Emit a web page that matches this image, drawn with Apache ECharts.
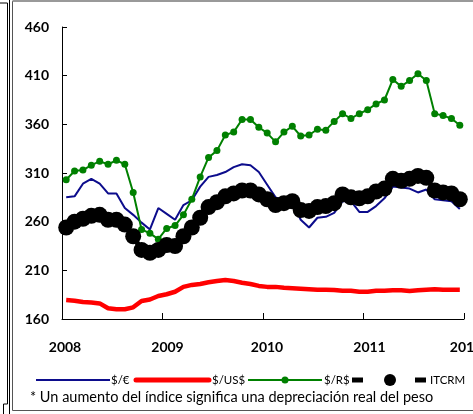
<!DOCTYPE html>
<html>
<head>
<meta charset="utf-8">
<script src="https://cdn.jsdelivr.net/npm/echarts@6/dist/echarts.min.js"></script>
<style>
  html, body { margin: 0; padding: 0; background: #fff; }
  #chart { width: 473px; height: 414px; }
</style>
</head>
<body>
<div id="chart"></div>
<script>
// nombres de las series (orden de la leyenda)
const seriesNames = ['$/€', '$/US$', '$/R$', 'ITCRM']
const years = [2008, 2009, 2010, 2011]
const yearLabels = [2008, 2009, 2010, 2011, 2012]
const yTicks = [160, 210, 260, 310, 360, 410, 460]
const note = '* Un aumento del índice significa una depreciación real del peso'

// valores mensuales ene-2008 .. dic-2011
const euro = [285, 286, 299, 304, 299, 289, 289, 274, 267, 259, 252, 274,
  268, 262, 277, 282, 296, 306, 308, 311, 316, 319, 318, 311,
  298, 285, 282, 281, 262, 254, 264, 265, 269, 281, 281, 270,
  270, 276, 284, 296, 295, 294, 290, 293, 283, 282, 281, 273]
const usd = [179.5, 178.8, 177.5, 177, 176, 171, 170, 170, 172, 178.5, 180, 183.6,
  185.4, 188, 193, 195, 196, 197.7, 199, 200, 199, 197.3, 196, 194,
  193, 193, 192, 191.5, 191, 190.5, 190, 190, 189.8, 189, 189, 188,
  188, 189, 189, 189.5, 189.5, 188.8, 189.5, 190, 190.5, 190, 190, 190]
const real = [303, 312, 313, 318, 322, 319, 323, 319, 290, 252, 248, 242,
  253, 256, 267, 283, 306, 326, 333, 349, 352, 365, 365, 357,
  351, 342, 352, 358, 348, 349, 355, 354, 363, 371, 366, 371,
  375, 381, 385, 406, 399, 405, 412, 405, 371, 369, 366, 359]
const itcrm = [254, 260, 263, 266, 267, 262, 262, 257, 245, 231, 228, 231,
  236, 235, 245, 254, 264, 275, 280, 286, 289, 292, 292, 288,
  283, 277, 279, 281, 272, 271, 275, 276, 279, 288, 285, 284,
  286, 291, 294, 304, 302, 304, 307, 305, 292, 290, 289, 283]

// posición de cada mes en el eje (mitad del mes)
const months = []
years.forEach(y => { for (let m = 0; m < 12; m++) months.push(y + (m + 0.5) / 12) })
const pairs = arr => arr.map((v, i) => [months[i], v])

const colors = ['#0c0c8c', '#ff0000', '#008000', '#000000']
const font = 'Lato, "Open Sans", sans-serif'

// las etiquetas de año del original quedan algo a la derecha de la marca
const labelPad = [6, 10, 8, 12, 4]
const yearRich = {}
yearLabels.forEach((y, i) => {
  yearRich['y' + y] = { fontFamily: font, fontWeight: 'bold', fontSize: 14, color: '#000', padding: [0, 0, 0, labelPad[i]] }
})

const chart = echarts.init(document.getElementById('chart'))

// leyenda dibujada a mano para imitar la de Excel
const ly = 380
const lfont = '11.5px ' + font
const legend = [
  { type: 'line', shape: { x1: 36, y1: ly, x2: 110, y2: ly }, style: { stroke: colors[0], lineWidth: 2 } },
  { type: 'text', x: 111, y: ly, style: { text: seriesNames[0], font: lfont, fill: '#000', verticalAlign: 'middle' } },
  { type: 'line', shape: { x1: 136, y1: ly, x2: 209, y2: ly }, style: { stroke: colors[1], lineWidth: 5, lineCap: 'round' } },
  { type: 'text', x: 212, y: ly, style: { text: seriesNames[1], font: lfont, fill: '#000', verticalAlign: 'middle' } },
  { type: 'line', shape: { x1: 248, y1: ly, x2: 322, y2: ly }, style: { stroke: colors[2], lineWidth: 2 } },
  { type: 'circle', shape: { cx: 285, cy: ly, r: 3.5 }, style: { fill: colors[2] } },
  { type: 'text', x: 324, y: ly, style: { text: seriesNames[2], font: lfont, fill: '#000', verticalAlign: 'middle' } },
  { type: 'rect', shape: { x: 352, y: ly - 2.5, width: 11, height: 5 }, style: { fill: '#000' } },
  { type: 'circle', shape: { cx: 390, cy: ly, r: 6 }, style: { fill: '#000' } },
  { type: 'rect', shape: { x: 415, y: ly - 2.5, width: 11, height: 5 }, style: { fill: '#000' } },
  { type: 'text', x: 430, y: ly, style: { text: seriesNames[3], font: lfont, fill: '#000', verticalAlign: 'middle' } }
]

// marco alrededor del gráfico
const frame = [
  { type: 'polyline', shape: { points: [[0, 3], [7.5, 3], [7.5, 404], [3.5, 404], [3.5, 414]] }, style: { stroke: '#000', lineWidth: 1, fill: null } },
  { type: 'line', shape: { x1: 9.5, y1: 0, x2: 9.5, y2: 414 }, style: { stroke: '#000', lineWidth: 1 } },
  { type: 'line', shape: { x1: 12.5, y1: 1, x2: 12.5, y2: 410.5 }, style: { stroke: '#555', lineWidth: 1 } },
  { type: 'line', shape: { x1: 12.5, y1: 410.5, x2: 473, y2: 410.5 }, style: { stroke: '#555', lineWidth: 1 } },
  { type: 'line', shape: { x1: 12.5, y1: 1, x2: 473, y2: 1 }, style: { stroke: '#999', lineWidth: 2 } }
]

const option = {
  animation: false,
  // sin ajuste automático: la etiqueta 2012 queda cortada como en el original
  grid: { left: 62, top: 27, right: 9, bottom: 95, containLabel: false, outerBoundsMode: 'none' },
  xAxis: {
    type: 'value', min: 2008, max: 2012, interval: 1,
    axisLine: { lineStyle: { color: '#000', width: 1 } },
    axisTick: { inside: true, length: 6, lineStyle: { color: '#000' } },
    axisLabel: {
      color: '#000', fontFamily: font, fontWeight: 'bold', fontSize: 14, margin: 21,
      formatter: v => '{y' + v + '|' + v + '}', rich: yearRich
    },
    splitLine: { show: false }
  },
  yAxis: {
    type: 'value', min: yTicks[0], max: yTicks[yTicks.length - 1], interval: 50,
    axisLine: { show: true, lineStyle: { color: '#000', width: 1 } },
    axisTick: { show: true, inside: true, length: 5, lineStyle: { color: '#000' } },
    axisLabel: { color: '#000', fontFamily: font, fontWeight: 'bold', fontSize: 14, margin: 13 },
    splitLine: { show: false }
  },
  series: [
    { name: seriesNames[0], type: 'line', data: pairs(euro), symbol: 'none', lineStyle: { color: colors[0], width: 2 }, z: 2 },
    { name: seriesNames[1], type: 'line', data: pairs(usd), symbol: 'none', lineStyle: { color: colors[1], width: 4.5 }, z: 2 },
    { name: seriesNames[2], type: 'line', data: pairs(real), symbol: 'circle', symbolSize: 7, itemStyle: { color: colors[2] }, lineStyle: { color: colors[2], width: 2 }, z: 3 },
    { name: seriesNames[3], type: 'line', data: pairs(itcrm), symbol: 'circle', symbolSize: 16, itemStyle: { color: colors[3] }, lineStyle: { color: colors[3], width: 5 }, z: 3 }
  ],
  graphic: [
    ...frame.map(g => Object.assign({ silent: true }, g)),
    ...legend.map(g => Object.assign({ silent: true }, g)),
    { type: 'text', x: 30, y: 397, silent: true, style: { text: note, font: '14.5px ' + font, fill: '#000', verticalAlign: 'middle' } }
  ]
}

chart.setOption(option)
window.addEventListener('resize', () => chart.resize())
</script>
</body>
</html>
